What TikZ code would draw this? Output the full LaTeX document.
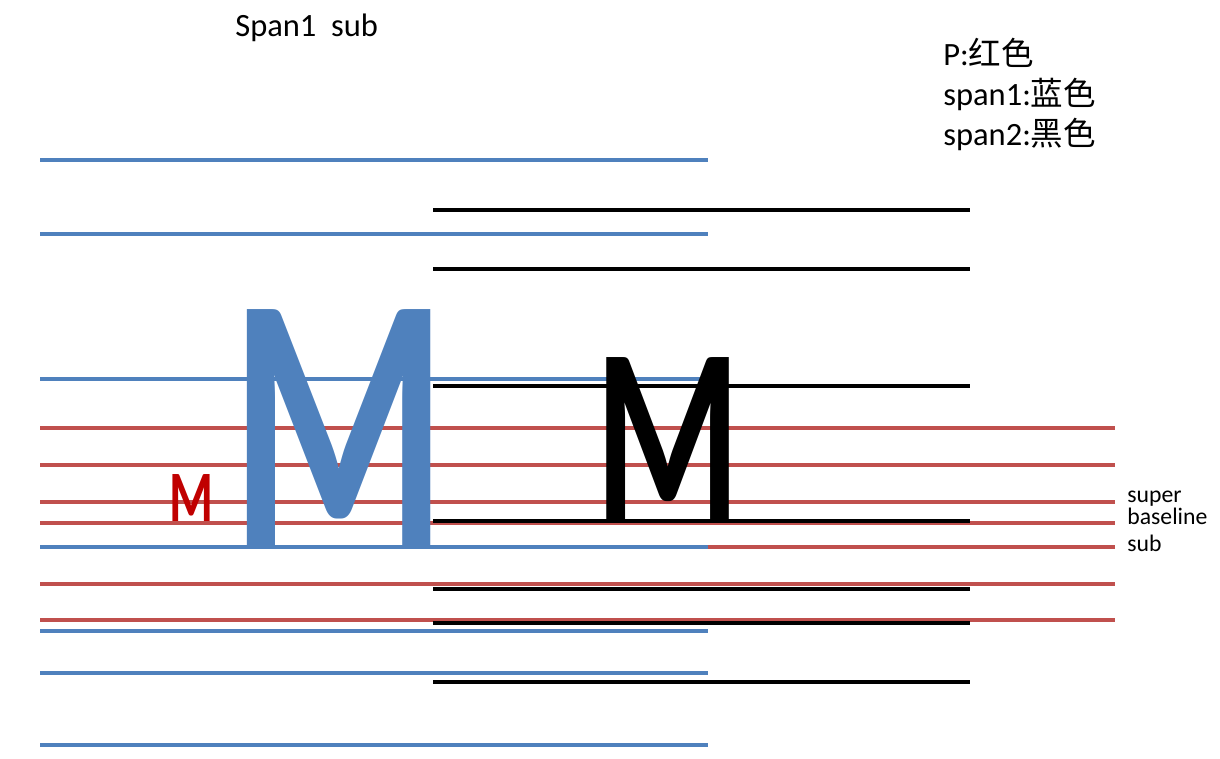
\documentclass[tikz,border=0pt]{standalone}
\usepackage{fontspec}
\setmainfont{Carlito}
\newfontfamily\cjk{Noto Sans CJK SC}
\usepackage{graphicx}
\definecolor{spanblue}{HTML}{4F81BD}
\definecolor{pred}{HTML}{C0504D}
\definecolor{mred}{HTML}{C00000}

\begin{document}
\begin{tikzpicture}[%
    x=0.02cm, y=-0.02cm,
    guide/.style = {line width=2.3pt},
    note/.style = {inner sep=0pt, anchor=base west, font=\fontsize{18.5}{20}\selectfont},
    smallnote/.style = {inner sep=0pt, anchor=base west, font=\fontsize{13.5}{15}\selectfont},
    glyph/.style = {inner sep=0pt, anchor=south west}
]
\useasboundingbox (0,0) rectangle (1220,759);

% P lines (red)
\foreach \y in {428,465,502,523,547,584,620} {
    \draw [guide, pred] (40,\y) -- (1115,\y);
}
% span1 lines (blue)
\foreach \y in {160,234,379,547,631,673,745} {
    \draw [guide, spanblue] (40,\y) -- (708,\y);
}
% span2 lines (black)
\foreach \y in {210,269,386,521,589,623,682} {
    \draw [guide, black] (433,\y) -- (970,\y);
}

\node (mred) [glyph, text=mred] at (169,522) {\resizebox{0.88cm}{0.94cm}{\bfseries M}};
\node (mblue) [glyph, text=spanblue] at (230,547) {\resizebox{4.34cm}{4.74cm}{\bfseries M}};
\node (mblack) [glyph, text=black] at (595,521) {\resizebox{2.9cm}{3.26cm}{\bfseries M}};

\node (title) [note] at (235,37) {Span1\ \ sub};
\node (legP) [note] at (943,66) {P:{\cjk 红色}};
\node (legA) [note] at (943,106) {span1:{\cjk 蓝色}};
\node (legB) [note] at (943,146) {span2:{\cjk 黑色}};

\node (lsuper) [smallnote] at (1127,503) {super};
\node (lbase) [smallnote] at (1127,525) {baseline};
\node (lsub) [smallnote] at (1127,552) {sub};
\end{tikzpicture}
\end{document}
